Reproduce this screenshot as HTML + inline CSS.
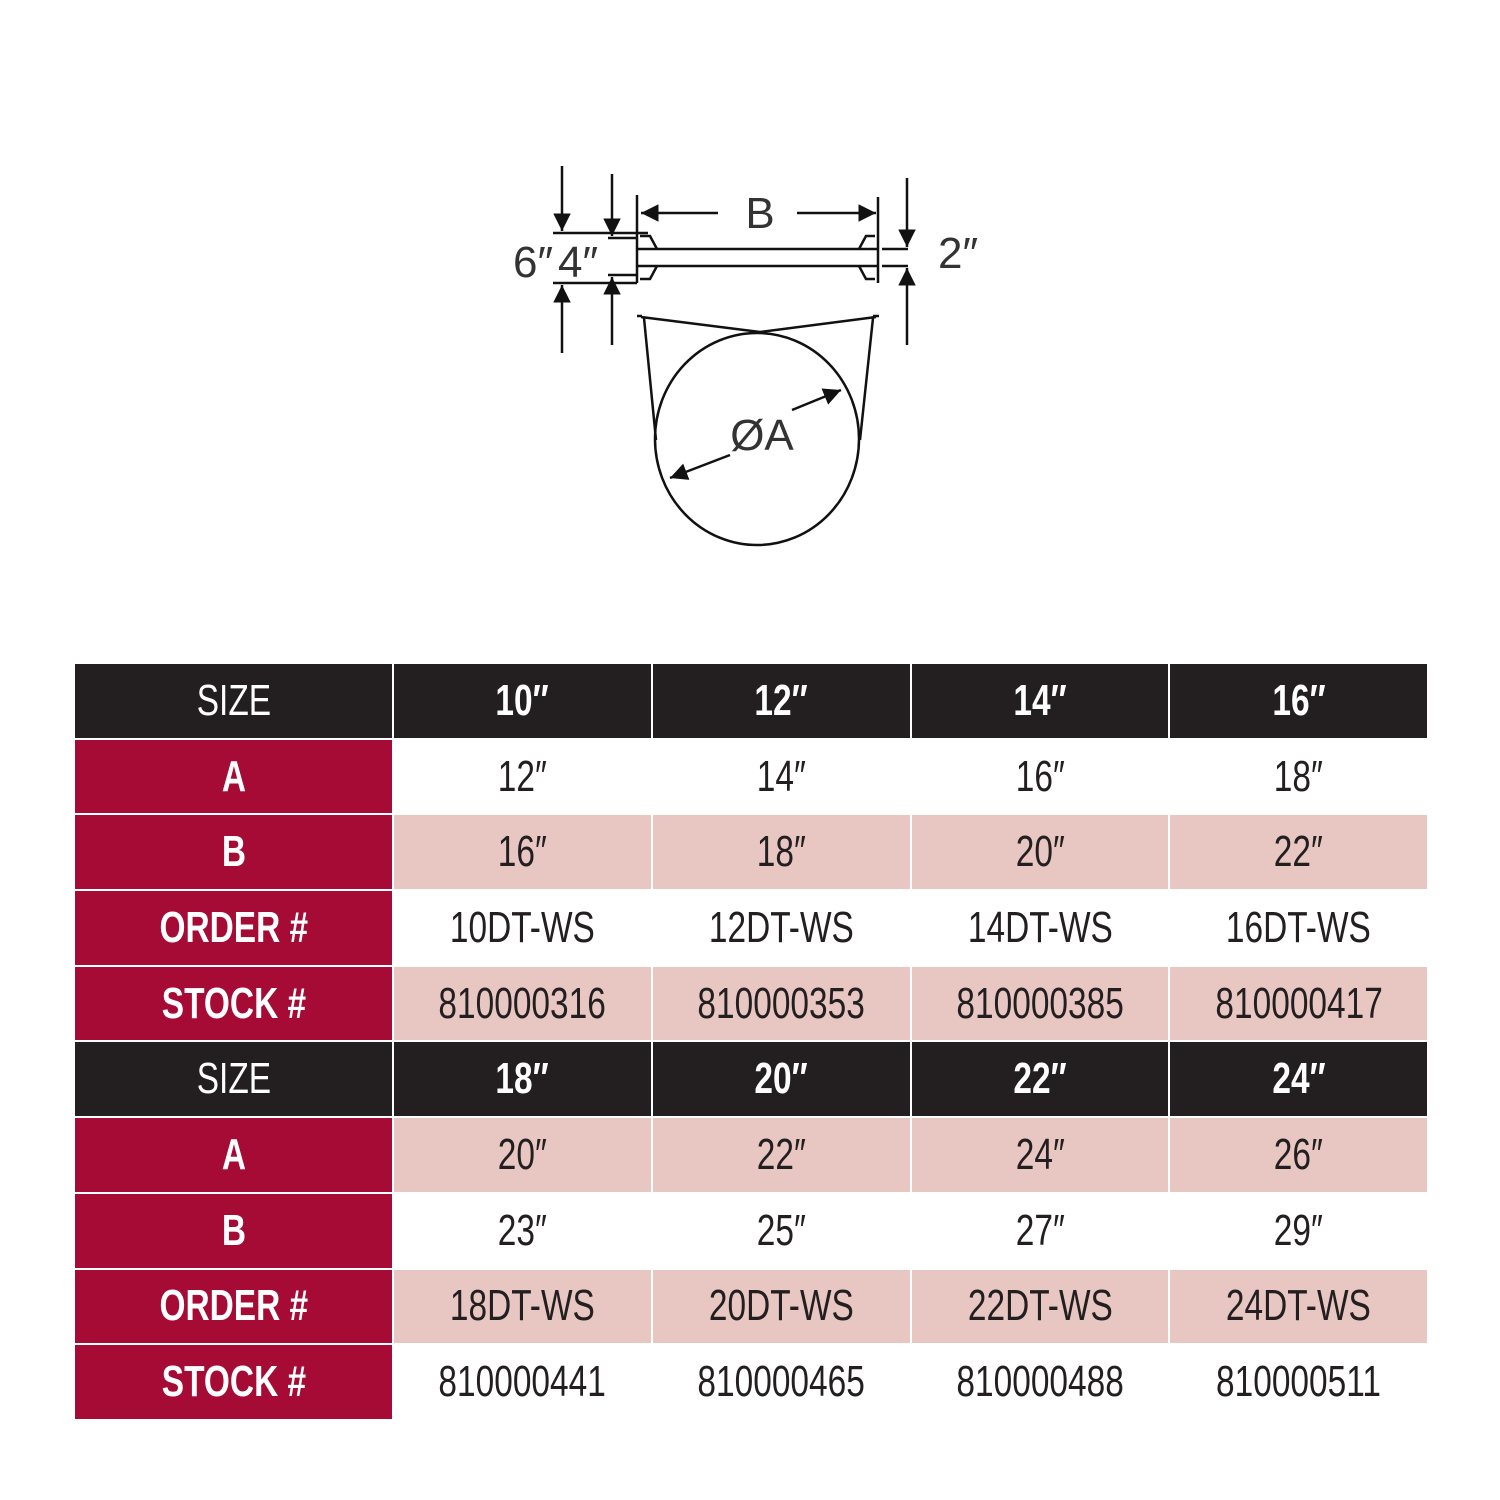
<!DOCTYPE html>
<html><head><style>
body{margin:0;width:1500px;height:1500px;background:#fff;position:relative;font-family:"Liberation Sans",sans-serif;}
svg{position:absolute;left:0;top:0}
table{position:absolute;left:73px;top:662px;border-collapse:collapse;width:1356px;border:2px solid #bbb}
td{height:73.7px;border:2px solid #fff;text-align:center;padding:0;font-size:44px;color:#231f20;}
td span{display:inline-block;transform:scaleX(0.76)}
td:first-child{width:317px}
.h td{background:#231f20;color:#fff;font-weight:bold}
.h td:first-child{font-weight:normal}
td.r{background:#a50b35;color:#fff;font-weight:bold}
.p td{background:#e8c6c1}
.p td.r{background:#a50b35}
</style></head><body>
<svg width="1500" height="640" viewBox="0 0 1500 640">
<defs><marker id="a" viewBox="0 0 10 10" refX="10" refY="5" markerWidth="7" markerHeight="7" orient="auto-start-reverse"><path d="M0,0L10,5L0,10z" fill="#111"/></marker></defs>
<g stroke="#111" stroke-width="2.5" fill="none">
<line x1="637" y1="195" x2="637" y2="283"/><line x1="878" y1="197" x2="878" y2="283"/>
<line x1="637" y1="249" x2="878" y2="249"/><line x1="637" y1="266" x2="878" y2="266"/>
<path d="M640,236L650,236L657,249M640,279L650,279L657,266M875,236L866,236L859,249M875,279L866,279L859,266"/>
<line x1="553" y1="233" x2="648" y2="233"/><line x1="553" y1="283" x2="637" y2="283"/>
<line x1="608" y1="238" x2="637" y2="238"/><line x1="608" y1="275" x2="637" y2="275"/>
<line x1="882" y1="249" x2="908" y2="249"/><line x1="882" y1="266" x2="908" y2="266"/>
<line x1="562" y1="166" x2="562" y2="231" marker-end="url(#a)"/><line x1="562" y1="353" x2="562" y2="285" marker-end="url(#a)"/>
<line x1="612" y1="174" x2="612" y2="236" marker-end="url(#a)"/><line x1="612" y1="345" x2="612" y2="277" marker-end="url(#a)"/>
<line x1="907" y1="178" x2="907" y2="247" marker-end="url(#a)"/><line x1="907" y1="345" x2="907" y2="268" marker-end="url(#a)"/>
<line x1="718" y1="213" x2="641" y2="213" marker-end="url(#a)"/><line x1="797" y1="213" x2="876" y2="213" marker-end="url(#a)"/>
<line x1="637" y1="316" x2="642" y2="316"/><line x1="873" y1="316" x2="879" y2="316"/>
<path d="M641,317L760,332L876,317"/>
<line x1="644" y1="318" x2="656" y2="440"/><line x1="873" y1="318" x2="860" y2="440"/>
<ellipse cx="757" cy="439" rx="102" ry="106"/>
<line x1="730" y1="455" x2="670" y2="478" marker-end="url(#a)"/><line x1="792" y1="410" x2="841" y2="390" marker-end="url(#a)"/>
</g>
<g font-family="Liberation Sans,sans-serif" fill="#333" font-size="44">
<text x="760" y="228" text-anchor="middle">B</text>
<text x="513" y="277">6″</text><text x="558" y="277">4″</text>
<text x="938" y="268">2″</text>
<text x="762" y="450" text-anchor="middle">ØA</text>
</g>
</svg>
<table>
<tr class="h"><td><span>SIZE</span></td><td><span>10″</span></td><td><span>12″</span></td><td><span>14″</span></td><td><span>16″</span></td></tr>
<tr><td class="r"><span>A</span></td><td><span>12″</span></td><td><span>14″</span></td><td><span>16″</span></td><td><span>18″</span></td></tr>
<tr class="p"><td class="r"><span>B</span></td><td><span>16″</span></td><td><span>18″</span></td><td><span>20″</span></td><td><span>22″</span></td></tr>
<tr><td class="r"><span>ORDER #</span></td><td><span>10DT-WS</span></td><td><span>12DT-WS</span></td><td><span>14DT-WS</span></td><td><span>16DT-WS</span></td></tr>
<tr class="p"><td class="r"><span>STOCK #</span></td><td><span>810000316</span></td><td><span>810000353</span></td><td><span>810000385</span></td><td><span>810000417</span></td></tr>
<tr class="h"><td><span>SIZE</span></td><td><span>18″</span></td><td><span>20″</span></td><td><span>22″</span></td><td><span>24″</span></td></tr>
<tr class="p"><td class="r"><span>A</span></td><td><span>20″</span></td><td><span>22″</span></td><td><span>24″</span></td><td><span>26″</span></td></tr>
<tr><td class="r"><span>B</span></td><td><span>23″</span></td><td><span>25″</span></td><td><span>27″</span></td><td><span>29″</span></td></tr>
<tr class="p"><td class="r"><span>ORDER #</span></td><td><span>18DT-WS</span></td><td><span>20DT-WS</span></td><td><span>22DT-WS</span></td><td><span>24DT-WS</span></td></tr>
<tr><td class="r"><span>STOCK #</span></td><td><span>810000441</span></td><td><span>810000465</span></td><td><span>810000488</span></td><td><span>810000511</span></td></tr>
</table>
</body></html>
